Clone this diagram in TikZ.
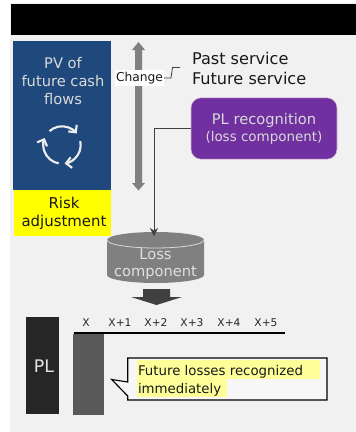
\documentclass[tikz,border=0pt]{standalone}
\usepackage{fontspec}
\setmainfont{DejaVu Sans}
\usetikzlibrary{arrows.meta,shapes.arrows}
\newcommand{\fs}[2]{\fontsize{#1}{#2}\selectfont}
\definecolor{riskyellow}{RGB}{255,255,0}
\definecolor{hiyellow}{RGB}{255,255,153}
\definecolor{panelblue}{RGB}{31,73,125}
\definecolor{plpurple}{RGB}{112,48,160}
\tikzset{
  x=0.75pt,y=-0.75pt,
  px/.style={inner sep=0pt,outer sep=0pt},
  txt/.style={px,align=center,text=#1},
  thinline/.style={draw=black!75,line width=0.6pt},
  cyc/.style={draw=white!93!black,line width=1.6pt,-{Straight Barb[length=4pt,width=8pt]}},
  yearlab/.style={px,font=\fs{8}{10},text=black!85},
}
\begin{document}
\begin{tikzpicture}
\useasboundingbox (0,0) rectangle (356,432);
\fill[white] (0,0) rectangle (356,432);
\fill[black!5.5] (10,3) rectangle (356,432);
\fill[black] (11,4) rectangle (356,35);
% blue panel
\node[px,fill=panelblue,minimum width=73.5pt,minimum height=111.75pt,anchor=north west] (pv) at (13,41) {};
\node[txt=white!85!black,font=\fs{11}{13.75},anchor=north] (pvt) at (63,57) {PV of\\future cash\\flows};
\coordinate (c0) at (62,145);
\draw[cyc] ([shift={(228:18.7)}]c0) arc[start angle=228,end angle=322,radius=18.7];
\draw[cyc] ([shift={(348:18.7)}]c0) arc[start angle=348,end angle=442,radius=18.7];
\draw[cyc] ([shift={(100:18.7)}]c0) arc[start angle=100,end angle=202,radius=18.7];
% yellow panel
\node[px,fill=riskyellow,minimum width=72.75pt,minimum height=34.5pt] (ra) at (62.5,213) {};
\node[txt=black!90,font=\fs{11.2}{13.9}] (rat) at (64,213.5) {Risk\\adjustment};
% double arrow
\fill[black!50] (138.5,42) -- (145,50) -- (142,50) -- (142,183) -- (145,183) -- (138.5,190.5) -- (132,183) -- (135,183) -- (135,50) -- (132,50) -- cycle;
\node[px,fill=white,minimum width=36.75pt,minimum height=12pt,font=\fs{9.2}{11},text=black!90] (chg) at (139.5,78) {Change};
\coordinate (svc) at (180,67.5);
\draw[thinline] (chg.east) -- (171,78) -- (172.5,67.5) -- (svc);
\node[px,anchor=west,align=left,font=\fs{12.1}{15.25},text=black!90] (svct) at (192,68.5) {Past service\\Future service};
% purple
\node[px,fill=plpurple,draw=white!70!violet,line width=0.4pt,rounded corners=7.5pt,minimum width=109.5pt,minimum height=46pt] (plr) at (264,128.5) {};
\node[txt=white!85!black] (plrt) at (264,129) {{\fs{11}{14}PL recognition}\\[0.5pt]{\fs{10.1}{12}(loss component)}};
% cylinder
\fill[black!50] (107,240) arc[start angle=180,end angle=360,x radius=48.5,y radius=8] -- (204,275) arc[start angle=0,end angle=180,x radius=48.5,y radius=8] -- cycle;
\draw[white!85!black,line width=0.6pt] (107,240) arc[start angle=180,end angle=0,x radius=48.5,y radius=8];
\node[px,minimum width=72.75pt,minimum height=38.25pt,txt=white!88!black,font=\fs{11}{13}] (loss) at (155.5,264) {Loss\\component};
\coordinate (lossin) at (154,236);
\draw[thinline,-{Stealth[length=6pt,width=6pt]}] (plr.west) -| (lossin);
% block arrow
\fill[black!75] (143,289) -- (170,289) -- (170,297) -- (182,297) -- (156.5,305) -- (131,297) -- (143,297) -- cycle;
% PL
\node[px,fill=black!85,minimum width=24.75pt,minimum height=72.75pt,anchor=north west] (pl) at (26,317) {};
\node[px,text=white!90!black,font=\fs{13}{14}] (plt) at (44,366) {PL};
% axis
\node[yearlab] (x0) at (86,323) {X};
\node[yearlab] (x1) at (120,323) {X+1};
\node[yearlab] (x2) at (156,323) {X+2};
\node[yearlab] (x3) at (192,323) {X+3};
\node[yearlab] (x4) at (229,323) {X+4};
\node[yearlab] (x5) at (266,323) {X+5};
\draw[black,line width=1.1pt] (73.5,333) -- (285,333);
\fill[black!65] (73,334) rectangle (104,415);
% callout
\draw[black,line width=0.85pt,fill=black!3] (127.7,358) -- (327,358) -- (327,400) -- (127.7,400) -- (127.7,396) -- (111.7,379.5) -- (127.7,382) -- cycle;
\fill[hiyellow] (137,360) rectangle (320,379);
\fill[hiyellow] (137,379) rectangle (227,397);
\node[px,anchor=west,align=left,font=\fs{10}{13.5},text=black!90] (ct) at (138,381) {Future losses recognized\\immediately};
\end{tikzpicture}
\end{document}
